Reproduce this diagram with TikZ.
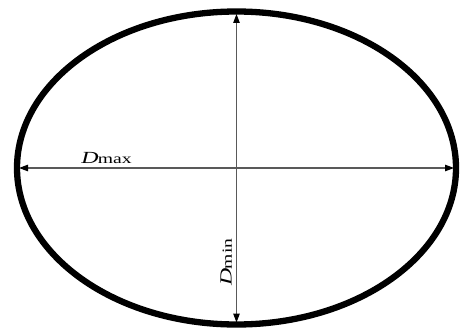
\documentclass[tikz,border=0pt]{standalone}
\usepackage{fontspec}
\setmainfont{Liberation Serif}
\usetikzlibrary{arrows.meta}
\newcommand{\dlabel}[1]{\scalebox{1.4}[1]{\fontsize{17}{17}\selectfont\textit{D}\kern-0.5pt\raisebox{-0.3pt}{\fontsize{14}{14}\selectfont #1}}}
\begin{document}
\begin{tikzpicture}[x=1pt,y=-1pt,
  rim/.style={line width=6.3pt,black},
  dim/.style={line width=1.1pt,draw=black!65,{Triangle[length=9pt,width=6.5pt,color=black]}-{Triangle[length=9pt,width=6.5pt,color=black]}},
  lab/.style={inner sep=0pt}]
\useasboundingbox (0,0) rectangle (462,331);
\draw[rim] (236.5,168) ellipse [x radius=219.5, y radius=156.5];
\coordinate (L) at (19,168);
\coordinate (R) at (454,168);
\coordinate (T) at (236.5,14);
\coordinate (B) at (236.5,322.5);
\draw[dim] (L) -- (R);
\draw[dim] (T) -- (B);
\node[lab,anchor=base] (dmax) at (106.5,163) {\dlabel{max}};
\node[lab,anchor=base,rotate=90] (dmin) at (231.5,262) {\dlabel{min}};
\end{tikzpicture}
\end{document}
